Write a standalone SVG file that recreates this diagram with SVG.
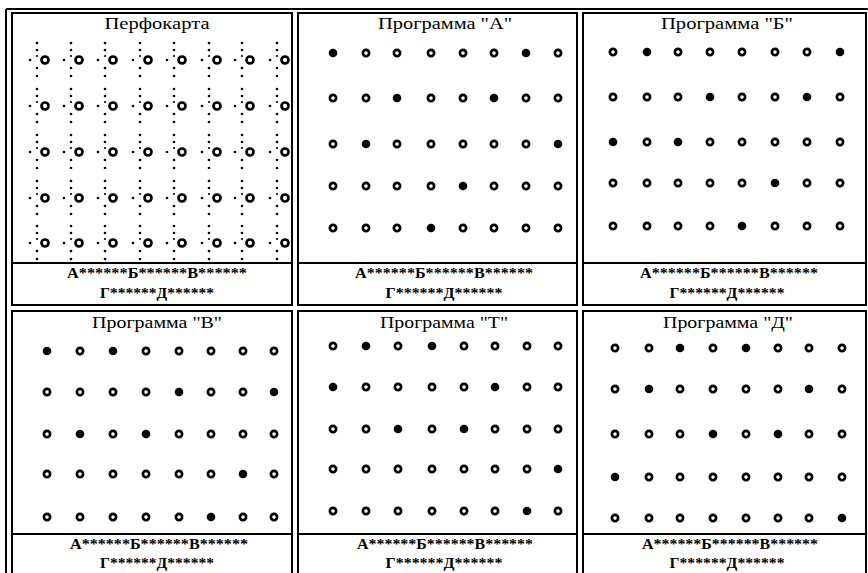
<svg xmlns="http://www.w3.org/2000/svg" width="868" height="573" viewBox="0 0 868 573">
<style>
.box{fill:#fff;stroke:#000;stroke-width:2}
.sep{stroke:#000;stroke-width:2}
.o{fill:none;stroke:#000;stroke-width:2.7}
.t{font-family:"Liberation Serif","Times New Roman",serif;font-size:16px;text-anchor:middle;fill:#000}
.l{font-family:"Liberation Serif","Times New Roman",serif;font-size:15px;font-weight:bold;text-anchor:middle;fill:#000}
</style>
<defs>
<circle id="o" r="3.1" class="o"/>
<circle id="f" r="4.3" fill="#000"/>
<g id="p">
<circle r="3.5" class="o"/>
<circle cx="-8" cy="-17" r="1.3"/><circle cx="-8" cy="-10" r="1.3"/>
<circle cx="-15" cy="0" r="1.3"/><circle cx="-8" cy="-4" r="1.1"/><circle cx="-8" cy="8" r="1.3"/><circle cx="-8" cy="16" r="1.3"/>
</g>
</defs>
<rect width="868" height="573" fill="#fff"/>
<g id="frame">
<line class="sep" x1="6" y1="9" x2="6" y2="573"/>
<line class="sep" x1="6" y1="9" x2="868" y2="9"/>
</g>
<g id="connectors"/>

<g id="panel-perfokarta">
<rect class="box" x="12" y="13" width="280" height="292"/>
<line class="sep" x1="12" y1="263" x2="292" y2="263"/>
<text class="t" x="157" y="29" textLength="105" lengthAdjust="spacingAndGlyphs">Перфокарта</text>
<g transform="translate(0,60)"><use href="#p" x="45"/><use href="#p" x="79"/><use href="#p" x="113"/><use href="#p" x="148"/><use href="#p" x="182"/><use href="#p" x="217"/><use href="#p" x="250"/><use href="#p" x="285"/></g>
<g transform="translate(0,106)"><use href="#p" x="45"/><use href="#p" x="79"/><use href="#p" x="113"/><use href="#p" x="148"/><use href="#p" x="182"/><use href="#p" x="217"/><use href="#p" x="250"/><use href="#p" x="285"/></g>
<g transform="translate(0,152)"><use href="#p" x="45"/><use href="#p" x="79"/><use href="#p" x="113"/><use href="#p" x="148"/><use href="#p" x="182"/><use href="#p" x="217"/><use href="#p" x="250"/><use href="#p" x="285"/></g>
<g transform="translate(0,198)"><use href="#p" x="45"/><use href="#p" x="79"/><use href="#p" x="113"/><use href="#p" x="148"/><use href="#p" x="182"/><use href="#p" x="217"/><use href="#p" x="250"/><use href="#p" x="285"/></g>
<g transform="translate(0,243)"><use href="#p" x="45"/><use href="#p" x="79"/><use href="#p" x="113"/><use href="#p" x="148"/><use href="#p" x="182"/><use href="#p" x="217"/><use href="#p" x="250"/><use href="#p" x="285"/></g>
<text class="l" x="157" y="278" textLength="180" lengthAdjust="spacingAndGlyphs">А******Б******В******</text>
<text class="l" x="157" y="298" textLength="114" lengthAdjust="spacingAndGlyphs">Г******Д******</text>
</g>

<g id="panel-A">
<rect class="box" x="298" y="13" width="279" height="292"/>
<line class="sep" x1="298" y1="263" x2="577" y2="263"/>
<text class="t" x="445" y="29" textLength="134" lengthAdjust="spacingAndGlyphs">Программа "А"</text>
<g transform="translate(0,53)"><use href="#f" x="333"/><use href="#o" x="366"/><use href="#o" x="397"/><use href="#o" x="431"/><use href="#o" x="463"/><use href="#o" x="494"/><use href="#f" x="526"/><use href="#o" x="558"/></g>
<g transform="translate(0,98)"><use href="#o" x="333"/><use href="#o" x="366"/><use href="#f" x="397"/><use href="#o" x="431"/><use href="#o" x="463"/><use href="#f" x="494"/><use href="#o" x="526"/><use href="#o" x="558"/></g>
<g transform="translate(0,144)"><use href="#o" x="333"/><use href="#f" x="366"/><use href="#o" x="397"/><use href="#o" x="431"/><use href="#o" x="463"/><use href="#o" x="494"/><use href="#o" x="526"/><use href="#f" x="558"/></g>
<g transform="translate(0,186)"><use href="#o" x="333"/><use href="#o" x="366"/><use href="#o" x="397"/><use href="#o" x="431"/><use href="#f" x="463"/><use href="#o" x="494"/><use href="#o" x="526"/><use href="#o" x="558"/></g>
<g transform="translate(0,228)"><use href="#o" x="333"/><use href="#o" x="366"/><use href="#o" x="397"/><use href="#f" x="431"/><use href="#o" x="463"/><use href="#o" x="494"/><use href="#o" x="526"/><use href="#o" x="558"/></g>
<text class="l" x="444" y="278" textLength="178" lengthAdjust="spacingAndGlyphs">А******Б******В******</text>
<text class="l" x="444" y="298" textLength="117" lengthAdjust="spacingAndGlyphs">Г******Д******</text>
</g>

<g id="panel-B">
<rect class="box" x="583" y="13" width="283" height="292"/>
<line class="sep" x1="583" y1="263" x2="866" y2="263"/>
<text class="t" x="727" y="29" textLength="132" lengthAdjust="spacingAndGlyphs">Программа "Б"</text>
<g transform="translate(0,52)"><use href="#o" x="613"/><use href="#f" x="647"/><use href="#o" x="678"/><use href="#o" x="710"/><use href="#o" x="742"/><use href="#o" x="775"/><use href="#o" x="807"/><use href="#f" x="840"/></g>
<g transform="translate(0,97)"><use href="#o" x="613"/><use href="#o" x="647"/><use href="#o" x="678"/><use href="#f" x="710"/><use href="#o" x="742"/><use href="#o" x="775"/><use href="#f" x="807"/><use href="#o" x="840"/></g>
<g transform="translate(0,142)"><use href="#f" x="613"/><use href="#o" x="647"/><use href="#f" x="678"/><use href="#o" x="710"/><use href="#o" x="742"/><use href="#o" x="775"/><use href="#o" x="807"/><use href="#o" x="840"/></g>
<g transform="translate(0,183)"><use href="#o" x="613"/><use href="#o" x="647"/><use href="#o" x="678"/><use href="#o" x="710"/><use href="#o" x="742"/><use href="#f" x="775"/><use href="#o" x="807"/><use href="#o" x="840"/></g>
<g transform="translate(0,226)"><use href="#o" x="613"/><use href="#o" x="647"/><use href="#o" x="678"/><use href="#o" x="710"/><use href="#f" x="742"/><use href="#o" x="775"/><use href="#o" x="807"/><use href="#o" x="840"/></g>
<text class="l" x="729" y="278" textLength="178" lengthAdjust="spacingAndGlyphs">А******Б******В******</text>
<text class="l" x="727" y="298" textLength="115" lengthAdjust="spacingAndGlyphs">Г******Д******</text>
</g>

<g id="panel-V">
<rect class="box" x="12" y="311" width="280" height="266"/>
<line class="sep" x1="12" y1="534" x2="292" y2="534"/>
<text class="t" x="157" y="328" textLength="130" lengthAdjust="spacingAndGlyphs">Программа "В"</text>
<g transform="translate(0,351)"><use href="#f" x="47"/><use href="#o" x="80"/><use href="#f" x="113"/><use href="#o" x="146"/><use href="#o" x="179"/><use href="#o" x="211"/><use href="#o" x="243"/><use href="#o" x="274"/></g>
<g transform="translate(0,392)"><use href="#o" x="47"/><use href="#o" x="80"/><use href="#o" x="113"/><use href="#o" x="146"/><use href="#f" x="179"/><use href="#o" x="211"/><use href="#o" x="243"/><use href="#f" x="274"/></g>
<g transform="translate(0,434)"><use href="#o" x="47"/><use href="#f" x="80"/><use href="#o" x="113"/><use href="#f" x="146"/><use href="#o" x="179"/><use href="#o" x="211"/><use href="#o" x="243"/><use href="#o" x="274"/></g>
<g transform="translate(0,474)"><use href="#o" x="47"/><use href="#o" x="80"/><use href="#o" x="113"/><use href="#o" x="146"/><use href="#o" x="179"/><use href="#o" x="211"/><use href="#f" x="243"/><use href="#o" x="274"/></g>
<g transform="translate(0,517)"><use href="#o" x="47"/><use href="#o" x="80"/><use href="#o" x="113"/><use href="#o" x="146"/><use href="#o" x="179"/><use href="#f" x="211"/><use href="#o" x="243"/><use href="#o" x="274"/></g>
<text class="l" x="159" y="549" textLength="178" lengthAdjust="spacingAndGlyphs">А******Б******В******</text>
<text class="l" x="157" y="568" textLength="114" lengthAdjust="spacingAndGlyphs">Г******Д******</text>
</g>

<g id="panel-T">
<rect class="box" x="298" y="311" width="279" height="266"/>
<line class="sep" x1="298" y1="534" x2="577" y2="534"/>
<text class="t" x="444" y="328" textLength="128" lengthAdjust="spacingAndGlyphs">Программа "Т"</text>
<g transform="translate(0,346)"><use href="#o" x="333"/><use href="#f" x="366"/><use href="#o" x="398"/><use href="#f" x="432"/><use href="#o" x="464"/><use href="#o" x="495"/><use href="#o" x="527"/><use href="#o" x="558"/></g>
<g transform="translate(0,387)"><use href="#f" x="333"/><use href="#o" x="366"/><use href="#o" x="398"/><use href="#o" x="432"/><use href="#o" x="464"/><use href="#f" x="495"/><use href="#o" x="527"/><use href="#o" x="558"/></g>
<g transform="translate(0,429)"><use href="#o" x="333"/><use href="#o" x="366"/><use href="#f" x="398"/><use href="#o" x="432"/><use href="#f" x="464"/><use href="#o" x="495"/><use href="#o" x="527"/><use href="#o" x="558"/></g>
<g transform="translate(0,469)"><use href="#o" x="333"/><use href="#o" x="366"/><use href="#o" x="398"/><use href="#o" x="432"/><use href="#o" x="464"/><use href="#o" x="495"/><use href="#o" x="527"/><use href="#f" x="558"/></g>
<g transform="translate(0,511)"><use href="#o" x="333"/><use href="#o" x="366"/><use href="#o" x="398"/><use href="#o" x="432"/><use href="#o" x="464"/><use href="#o" x="495"/><use href="#f" x="527"/><use href="#o" x="558"/></g>
<text class="l" x="445" y="549" textLength="176" lengthAdjust="spacingAndGlyphs">А******Б******В******</text>
<text class="l" x="444" y="568" textLength="117" lengthAdjust="spacingAndGlyphs">Г******Д******</text>
</g>

<g id="panel-D">
<rect class="box" x="583" y="311" width="283" height="266"/>
<line class="sep" x1="583" y1="534" x2="866" y2="534"/>
<text class="t" x="728" y="328" textLength="130" lengthAdjust="spacingAndGlyphs">Программа "Д"</text>
<g transform="translate(0,348)"><use href="#o" x="615"/><use href="#o" x="649"/><use href="#f" x="680"/><use href="#o" x="713"/><use href="#f" x="746"/><use href="#o" x="778"/><use href="#o" x="809"/><use href="#o" x="842"/></g>
<g transform="translate(0,389)"><use href="#o" x="615"/><use href="#f" x="649"/><use href="#o" x="680"/><use href="#o" x="713"/><use href="#o" x="746"/><use href="#o" x="778"/><use href="#f" x="809"/><use href="#o" x="842"/></g>
<g transform="translate(0,434)"><use href="#o" x="615"/><use href="#o" x="649"/><use href="#o" x="680"/><use href="#f" x="713"/><use href="#o" x="746"/><use href="#f" x="778"/><use href="#o" x="809"/><use href="#o" x="842"/></g>
<g transform="translate(0,477)"><use href="#f" x="615"/><use href="#o" x="649"/><use href="#o" x="680"/><use href="#o" x="713"/><use href="#o" x="746"/><use href="#o" x="778"/><use href="#o" x="809"/><use href="#o" x="842"/></g>
<g transform="translate(0,518)"><use href="#o" x="615"/><use href="#o" x="649"/><use href="#o" x="680"/><use href="#o" x="713"/><use href="#o" x="746"/><use href="#o" x="778"/><use href="#o" x="809"/><use href="#f" x="842"/></g>
<text class="l" x="730" y="549" textLength="176" lengthAdjust="spacingAndGlyphs">А******Б******В******</text>
<text class="l" x="727" y="568" textLength="115" lengthAdjust="spacingAndGlyphs">Г******Д******</text>
</g>
</svg>
